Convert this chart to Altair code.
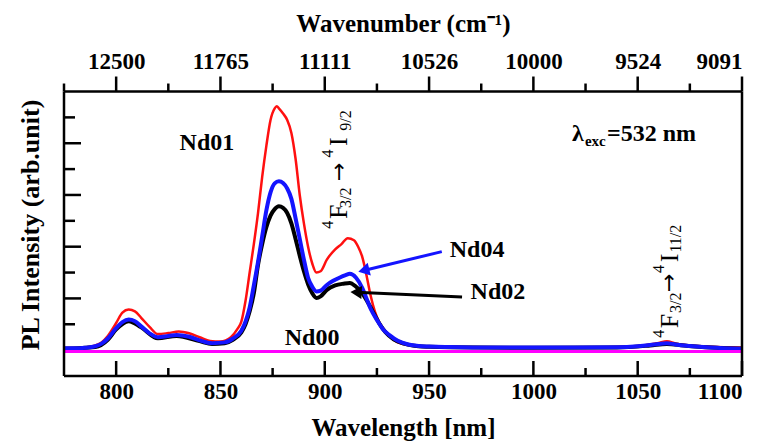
import altair as alt
import pandas as pd

FONT = "Liberation Serif"

# ---------------- data ----------------
wl_red = [775, 780, 785, 790, 793, 796, 800, 803, 806, 809, 812, 816,
          820, 825, 830, 835, 840, 845, 850, 855, 858, 860, 862, 864,
          866, 868, 870, 872, 874, 876, 877, 878, 880, 882, 884, 886,
          888, 890, 892, 894, 896, 898, 901, 905, 908, 911, 914, 916,
          918, 920, 922, 924, 926, 928, 931, 935, 940, 945, 950, 960,
          980, 1000, 1020, 1040, 1050, 1056, 1060, 1064, 1068, 1075, 1085, 1100]
red = [0.08, 0.08, 0.10, 0.18, 0.3, 0.55, 1.05, 1.45, 1.57, 1.5, 1.25, 0.9,
       0.62, 0.66, 0.72, 0.65, 0.5, 0.35, 0.33, 0.5, 0.8, 1.1, 1.9, 3.0,
       4.1, 5.3, 6.7, 7.9, 8.9, 9.35, 9.43, 9.35, 9.15, 8.9, 8.4, 7.4,
       6.0, 4.9, 4.0, 3.35, 3.0, 3.05, 3.5, 3.9, 4.1, 4.33, 4.25, 4.0,
       3.6, 2.9, 2.1, 1.5, 1.1, 0.85, 0.55, 0.3, 0.2, 0.16, 0.14, 0.12,
       0.1, 0.1, 0.1, 0.12, 0.16, 0.22, 0.28, 0.34, 0.26, 0.18, 0.13, 0.1]

wl_blue = [775, 780, 785, 790, 793, 796, 800, 803, 806, 809, 812, 816,
           820, 825, 829, 835, 840, 846, 852, 856, 860, 862, 864, 866,
           868, 870, 872, 874, 876, 878, 880, 882, 884, 886, 888, 890,
           892, 894, 896, 898, 901, 904, 907, 910, 912, 915, 918, 920,
           922, 925, 928, 931, 935, 940, 945, 950, 960, 980, 1000, 1020,
           1040, 1050, 1056, 1060, 1064, 1068, 1075, 1085, 1100]
blue = [0.07, 0.07, 0.09, 0.15, 0.25, 0.45, 0.85, 1.08, 1.18, 1.12, 0.92, 0.65,
        0.5, 0.55, 0.59, 0.52, 0.38, 0.27, 0.3, 0.45, 0.75, 1.1, 1.65, 2.5,
        3.4, 4.4, 5.4, 6.1, 6.45, 6.53, 6.46, 6.25, 5.85, 5.1, 4.3, 3.5,
        2.8, 2.45, 2.27, 2.3, 2.52, 2.68, 2.8, 2.9, 2.95, 2.8, 2.4, 2.0,
        1.6, 1.17, 0.8, 0.58, 0.36, 0.22, 0.16, 0.14, 0.12, 0.1, 0.1, 0.1,
        0.11, 0.15, 0.2, 0.24, 0.27, 0.22, 0.16, 0.1, 0.05]

wl_black = [775, 790, 796, 800, 806, 812, 820, 829, 840, 846, 852, 856,
            860, 862, 864, 866, 868, 870, 872, 874, 876, 878, 880, 882,
            884, 886, 888, 890, 892, 894, 896, 898, 901, 905, 909, 912,
            915, 917, 920, 923, 926, 929, 933, 938, 945, 950, 960, 1000,
            1040, 1056, 1064, 1072, 1085, 1100]
black = [0.05, 0.12, 0.4, 0.8, 1.12, 0.88, 0.46, 0.55, 0.35, 0.24, 0.27, 0.4,
         0.68, 1.0, 1.5, 2.2, 3.3, 4.1, 4.75, 5.2, 5.45, 5.56, 5.5, 5.3,
         4.9, 4.3, 3.65, 3.05, 2.55, 2.2, 2.02, 2.08, 2.33, 2.5, 2.57, 2.6,
         2.45, 2.3, 1.94, 1.5, 1.05, 0.7, 0.42, 0.25, 0.15, 0.13, 0.11, 0.09,
         0.1, 0.18, 0.24, 0.18, 0.1, 0.05]

wl_magenta = [775, 1100]
magenta = [-0.05, -0.05]

series_names = ["Nd01", "Nd02", "Nd04", "Nd00"]
series_colors = ["#ff1010", "#000000", "#1414ff", "#ff00ff"]
series_widths = [2.5, 4, 4, 3]

# axis ticks / frame
x_min, x_max = 775, 1100
y_min, y_frame_top, y_view_top = -1, 10, 10.6
bottom_major = [800, 850, 900, 950, 1000, 1050, 1100]
bottom_minor = [825, 875, 925, 975, 1025, 1075]
top_minor = [775, 825, 875, 925, 975, 1025, 1075]
top_major_len = 15
top_minor_len = 8
top_labels = ["12500", "11765", "11111", "10526", "10000", "9524", "9091"]
left_major = [2, 4, 6, 8]
left_minor = [1, 3, 5, 7, 9]

# annotations
name_text = ["Nd01", "Nd04", "Nd02", "Nd00"]
name_x = [843.5, 973.0, 983.0, 893.9]
name_y = [8.02, 3.88, 2.23, 0.47]

exc_text = ["λ", "exc", "=532 nm"]
exc_x = [1018.5, 1024.7, 1035.3]
exc_y = [8.10, 7.91, 8.10]
exc_size = [24, 15, 24]

rot_text = ["4", "F", "3/2", "4", "I", "9/2",
            "4", "F", "3/2", "4", "I", "11/2"]
rot_x = [903.9, 910.7, 912.6, 903.9, 910.7, 912.6,
         1062.6, 1069.3, 1070.8, 1062.6, 1069.3, 1070.8]
rot_y = [4.85, 5.35, 5.89, 7.60, 8.06, 8.88,
         0.63, 1.13, 1.83, 3.14, 3.57, 4.31]
rot_size = [16, 26, 16, 16, 26, 16,
            16, 26, 16, 16, 26, 16]
rot_arrow_x = [906.8, 1065.0]
rot_arrow_y = [6.90, 2.60]

arrow_color = ["#1414ff", "#000000"]
arrow_x = [956.1, 965.8]
arrow_y = [3.81, 2.05]
arrow_hx = [918.7, 915.0]
arrow_hy = [3.08, 2.24]
arrow_angle = [346, 3]

y_title = "PL Intensity (arb.unit)"

# ---------------- build ----------------
W, H = 678, 300
PAD_TOP = 76
xs = alt.Scale(domain=[x_min, x_max], nice=False, zero=False)
ys = alt.Scale(domain=[y_min, y_view_top], nice=False, zero=False)

frames = []
for name, wl, vals in [("Nd01", wl_red, red), ("Nd02", wl_black, black),
                       ("Nd04", wl_blue, blue), ("Nd00", wl_magenta, magenta)]:
    frames.append(pd.DataFrame({"wl": wl, "val": vals, "sample": name}))
spec = pd.concat(frames, ignore_index=True)

RULE = dict(color="black", strokeWidth=2.5)
layers = []

# axis carrier (bottom)
layers.append(alt.Chart(spec).mark_line(opacity=0).encode(
    x=alt.X("wl:Q", scale=xs, axis=alt.Axis(
        orient="bottom", values=bottom_major, format="d", title="Wavelength [nm]",
        ticks=False, domain=False, grid=False, labelPadding=4, titlePadding=12)),
    y=alt.Y("val:Q", scale=ys, axis=None),
    detail="sample:N",
))

# top axis labels (wavenumber)
vals_str = ",".join(str(v) for v in bottom_major)
labs_str = ",".join("'" + s + "'" for s in top_labels)
label_expr = (f"indexof([{vals_str}], datum.value) >= 0 ? "
              f"[{labs_str}][indexof([{vals_str}], datum.value)] : ''")
layers.append(
    alt.Chart(pd.DataFrame({"t": bottom_major})).mark_point(opacity=0).encode(
        x=alt.X("t:Q", scale=xs, axis=alt.Axis(
            orient="top", values=bottom_major, labelExpr=label_expr,
            title="Wavenumber (cm⁻¹)", ticks=False, domain=False, grid=False,
            labelPadding=3, titlePadding=14)),
        y=alt.Y(datum=y_frame_top, scale=ys, axis=None))
)

for name, col, w in zip(series_names, series_colors, series_widths):
    layers.append(
        alt.Chart(spec).transform_filter(alt.datum.sample == name)
        .mark_line(interpolate="monotone", color=col, strokeWidth=w)
        .encode(x=alt.X("wl:Q", scale=xs, axis=None),
                y=alt.Y("val:Q", scale=ys, axis=None))
    )

# y title
layers.append(
    alt.Chart(pd.DataFrame({"t": [y_title]})).mark_text(
        font=FONT, fontWeight="bold", fontSize=26, angle=270, align="center",
        baseline="middle", color="black").encode(
        x=alt.value(-33), y=alt.value(149), text="t:N")
)

# arrows
arr_df = pd.DataFrame({"x": arrow_x, "y": arrow_y, "hx": arrow_hx, "hy": arrow_hy,
                       "c": arrow_color, "a": arrow_angle})
layers.append(
    alt.Chart(arr_df).mark_rule(strokeWidth=3).encode(
        x=alt.X("x:Q", scale=xs, axis=None), y=alt.Y("y:Q", scale=ys, axis=None),
        x2="hx:Q", y2="hy:Q", color=alt.Color("c:N", scale=None))
)
layers.append(
    alt.Chart(arr_df).mark_point(shape="triangle-left", filled=True, size=170, opacity=1).encode(
        x=alt.X("hx:Q", scale=xs, axis=None), y=alt.Y("hy:Q", scale=ys, axis=None),
        angle=alt.Angle("a:Q", scale=None), color=alt.Color("c:N", scale=None))
)

# sample names
layers.append(
    alt.Chart(pd.DataFrame({"x": name_x, "y": name_y, "t": name_text}))
    .mark_text(font=FONT, fontWeight="bold", fontSize=24, align="center",
               baseline="middle", color="black")
    .encode(x=alt.X("x:Q", scale=xs, axis=None), y=alt.Y("y:Q", scale=ys, axis=None),
            text="t:N")
)
# lambda_exc
layers.append(
    alt.Chart(pd.DataFrame({"x": exc_x, "y": exc_y, "t": exc_text, "s": exc_size}))
    .mark_text(font=FONT, fontWeight="bold", align="left", baseline="alphabetic",
               color="black")
    .encode(x=alt.X("x:Q", scale=xs, axis=None), y=alt.Y("y:Q", scale=ys, axis=None),
            text="t:N", size=alt.Size("s:Q", scale=None))
)
# rotated transition labels
layers.append(
    alt.Chart(pd.DataFrame({"x": rot_x, "y": rot_y, "t": rot_text, "s": rot_size}))
    .mark_text(font=FONT, angle=270, align="center", baseline="alphabetic",
               color="black")
    .encode(x=alt.X("x:Q", scale=xs, axis=None), y=alt.Y("y:Q", scale=ys, axis=None),
            text="t:N", size=alt.Size("s:Q", scale=None))
)
layers.append(
    alt.Chart(pd.DataFrame({"x": rot_arrow_x, "y": rot_arrow_y, "t": ["→", "→"]}))
    .mark_text(font="DejaVu Sans", fontSize=22, angle=270, align="center",
               baseline="middle", color="black")
    .encode(x=alt.X("x:Q", scale=xs, axis=None), y=alt.Y("y:Q", scale=ys, axis=None),
            text="t:N")
)

# ---- frame and ticks drawn last, on top of everything ----
layers.append(alt.Chart(pd.DataFrame({"v": [y_min, y_frame_top]})).mark_rule(**RULE).encode(
    y=alt.Y("v:Q", scale=ys, axis=None),
    x=alt.X(datum=x_min, scale=xs, axis=None), x2=alt.X2(datum=x_max)))
layers.append(alt.Chart(pd.DataFrame({"t": [x_min, x_max]})).mark_rule(**RULE).encode(
    x=alt.X("t:Q", scale=xs, axis=None),
    y=alt.Y(datum=y_min, scale=ys, axis=None), y2=alt.Y2(datum=y_frame_top)))
# top outward ticks (vertical tick marks sitting on the top frame line)
layers.append(
    alt.Chart(pd.DataFrame({"t": bottom_major})).mark_tick(
        orient="vertical", color="black", thickness=2.5, size=top_major_len,
        opacity=1, yOffset=-top_major_len / 2).encode(
        x=alt.X("t:Q", scale=xs, axis=None),
        y=alt.Y(datum=y_frame_top, scale=ys, axis=None))
)
layers.append(
    alt.Chart(pd.DataFrame({"t": top_minor})).mark_tick(
        orient="vertical", color="black", thickness=2.5, size=top_minor_len,
        opacity=1, yOffset=-top_minor_len / 2).encode(
        x=alt.X("t:Q", scale=xs, axis=None),
        y=alt.Y(datum=y_frame_top, scale=ys, axis=None))
)
# bottom inward ticks
layers.append(
    alt.Chart(pd.DataFrame({"t": bottom_major})).mark_rule(**RULE).encode(
        x=alt.X("t:Q", scale=xs, axis=None), y=alt.value(H), y2=alt.value(H - 15))
)
layers.append(
    alt.Chart(pd.DataFrame({"t": bottom_minor})).mark_rule(**RULE).encode(
        x=alt.X("t:Q", scale=xs, axis=None), y=alt.value(H), y2=alt.value(H - 8))
)
# left inward ticks
layers.append(
    alt.Chart(pd.DataFrame({"v": left_major})).mark_rule(**RULE).encode(
        y=alt.Y("v:Q", scale=ys, axis=None), x=alt.value(0), x2=alt.value(17))
)
layers.append(
    alt.Chart(pd.DataFrame({"v": left_minor})).mark_rule(**RULE).encode(
        y=alt.Y("v:Q", scale=ys, axis=None), x=alt.value(0), x2=alt.value(11))
)

chart = alt.layer(*layers).properties(
    width=W, height=H,
    padding={"left": 64, "top": PAD_TOP, "right": 29, "bottom": 448 - PAD_TOP - H},
    autosize=alt.AutoSizeParams(type="none"),
    background="white",
).configure_view(
    stroke="transparent"
).configure_axis(
    labelFont=FONT, titleFont=FONT, labelFontSize=23, titleFontSize=25,
    labelFontWeight="bold", titleFontWeight="bold",
    labelColor="black", titleColor="black",
)

chart.save("out.html", embed_options={"renderer": "svg", "actions": False})
